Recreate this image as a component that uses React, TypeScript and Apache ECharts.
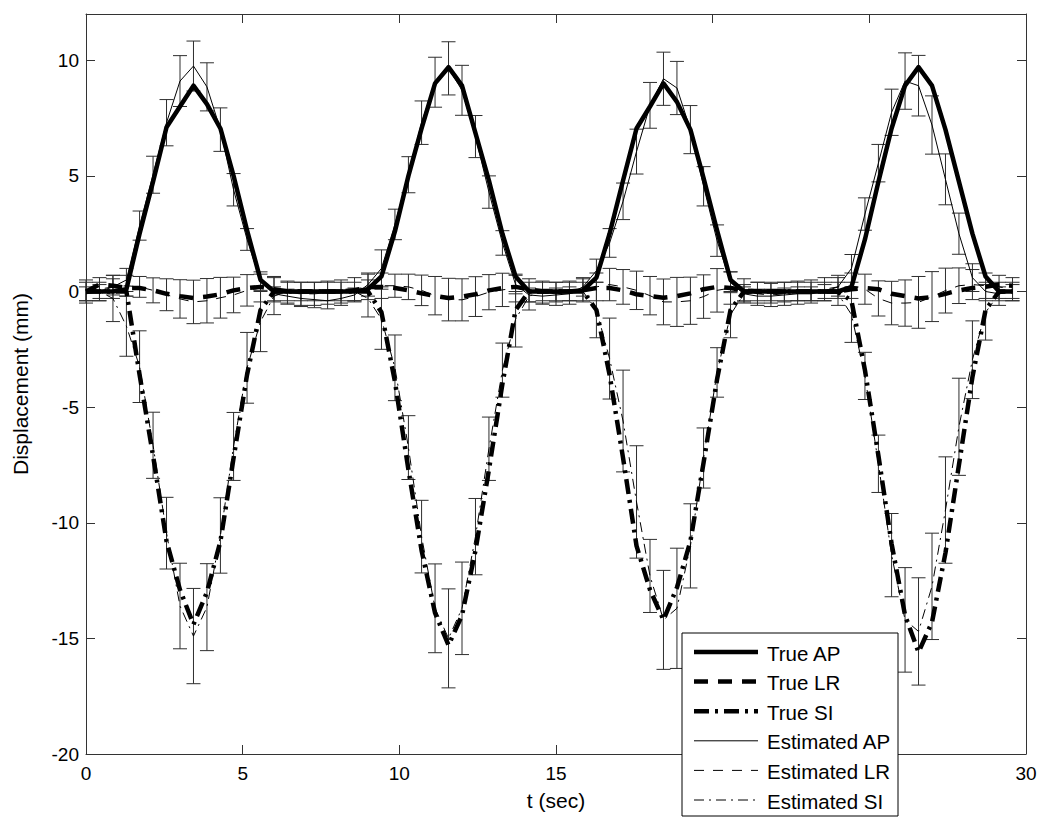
import React, { useEffect, useRef } from 'react';
import * as echarts from 'echarts';

// sample times (s), one sample every 3/7 s
const TIME = [0, 0.43, 0.86, 1.29, 1.71, 2.14, 2.57, 3.0, 3.43, 3.86, 4.29, 4.71, 5.14, 5.57, 6.0, 6.43, 6.86, 7.29, 7.71, 8.14,
  8.57, 9.0, 9.43, 9.86, 10.29, 10.71, 11.14, 11.57, 12.0, 12.43, 12.86, 13.29, 13.71, 14.14, 14.57, 15.0, 15.43, 15.86, 16.29, 16.71,
  17.14, 17.57, 18.0, 18.43, 18.86, 19.29, 19.71, 20.14, 20.57, 21.0, 21.43, 21.86, 22.29, 22.71, 23.14, 23.57, 24.0, 24.43, 24.86, 25.29,
  25.71, 26.14, 26.57, 27.0, 27.43, 27.86, 28.29, 28.71, 29.14, 29.57];

const TRUE_AP = [0, 0, 0, 0.1, 2.5, 4.75, 7.1, 8.0, 8.9, 8.1, 7.05, 5.0, 2.65, 0.5, 0, 0, 0, 0, 0, 0,
  0, 0.1, 0.65, 2.6, 5.0, 7.05, 9.0, 9.7, 8.9, 6.85, 4.8, 2.5, 0.65, 0, 0, 0, 0, 0.05, 0.6, 2.5,
  4.8, 7.05, 8.0, 9.0, 8.2, 7.0, 4.9, 2.65, 0.5, 0, 0, 0, 0, 0, 0, 0, 0, 0.2, 2.25, 4.75,
  7.05, 8.9, 9.7, 8.9, 7.0, 4.75, 2.5, 0.65, 0, 0];

const TRUE_LR = [0, 0.3, 0.25, 0.15, 0.15, 0.05, -0.1, -0.2, -0.28, -0.22, -0.12, 0.05, 0.15, 0.2, 0.1, 0, 0, 0, 0, 0,
  0.05, 0.2, 0.2, 0.15, 0.05, -0.08, -0.2, -0.28, -0.22, -0.12, 0.05, 0.15, 0.2, 0.1, 0, 0, 0, 0.05, 0.15, 0.15,
  0.05, -0.12, -0.2, -0.27, -0.2, -0.08, 0.1, 0.2, 0.15, 0.05, 0, 0, 0, 0, 0, 0, 0, 0.1, 0.15, 0.1,
  -0.1, -0.2, -0.3, -0.25, -0.1, 0.05, 0.15, 0.2, 0.3, 0.25];

const TRUE_SI = [0, 0, 0, 0, -3.6, -7.1, -10.8, -12.9, -14.4, -13.0, -10.8, -7.2, -3.6, -0.8, 0, 0, 0, 0, 0, 0,
  0, 0, -0.9, -3.9, -7.7, -11.2, -13.9, -15.3, -14.0, -11.2, -7.7, -4.0, -0.8, 0, 0, 0, 0, 0, -0.8, -3.6,
  -7.2, -11.0, -12.9, -14.2, -12.8, -10.8, -7.4, -3.8, -0.8, 0, 0, 0, 0, 0, 0, 0, 0, -0.4, -3.4, -7.1,
  -10.9, -14.0, -15.6, -14.3, -11.3, -7.5, -3.7, -0.8, 0, 0];

const EST_AP = [-0.1, 0, 0.2, 0.5, 2.85, 5.05, 7.3, 9.1, 9.75, 8.85, 7.0, 4.4, 2.25, 0.45, -0.1, -0.2, -0.3, -0.35, -0.4, -0.3,
  -0.15, 0.3, 1.0, 2.9, 5.05, 7.3, 9.05, 9.65, 8.7, 6.7, 4.3, 2.1, 0.3, -0.15, -0.2, -0.15, -0.1, 0.2, 0.9, 2.1,
  3.9, 6.05, 8.05, 9.2, 8.8, 7.0, 4.55, 2.2, 0.4, -0.1, -0.2, -0.2, -0.15, -0.1, -0.1, 0, 0.2, 1.0, 3.35, 5.55,
  7.75, 9.1, 8.9, 7.2, 4.85, 2.5, 0.6, 0, -0.1, 0];

const EST_AP_SD = [0.3, 0.3, 0.35, 0.5, 0.63, 0.8, 1.0, 1.1, 1.08, 1.04, 0.94, 0.7, 0.47, 0.4, 0.3, 0.3, 0.35, 0.35, 0.35, 0.3,
  0.3, 0.5, 0.8, 0.66, 0.78, 0.94, 1.08, 1.15, 1.08, 0.91, 0.7, 0.53, 0.4, 0.3, 0.3, 0.3, 0.3, 0.4, 0.5, 0.62,
  0.79, 0.97, 0.99, 1.15, 1.15, 1.04, 0.85, 0.68, 0.45, 0.3, 0.3, 0.3, 0.3, 0.3, 0.3, 0.3, 0.4, 0.6, 0.7, 0.81,
  1.0, 1.22, 1.31, 1.26, 1.1, 0.89, 0.6, 0.4, 0.3, 0.3];

const EST_LR = [0, 0.1, 0.2, 0.25, 0.2, 0.05, -0.14, -0.32, -0.45, -0.4, -0.27, -0.15, 0.05, 0.15, 0.1, -0.05, -0.1, -0.1, -0.05, 0,
  0.1, 0.2, 0.25, 0.25, 0.2, 0.05, -0.18, -0.35, -0.36, -0.22, -0.03, 0.07, 0.15, 0.05, -0.05, -0.1, -0.05, 0.05, 0.2, 0.3,
  0.2, 0.05, -0.18, -0.45, -0.45, -0.4, -0.22, 0.05, 0.15, 0.05, -0.1, -0.15, -0.1, -0.05, 0, 0.1, 0.2, 0.25, 0.1, -0.3,
  -0.5, -0.5, -0.47, -0.22, 0.04, 0.25, 0.3, 0.25, 0.2, 0.1];

const EST_LR_SD = [0.5, 0.5, 0.5, 0.45, 0.45, 0.54, 0.69, 0.83, 0.94, 0.96, 0.88, 0.77, 0.68, 0.6, 0.55, 0.5, 0.5, 0.5, 0.5, 0.5,
  0.5, 0.55, 0.55, 0.5, 0.55, 0.66, 0.83, 0.92, 0.91, 0.86, 0.76, 0.72, 0.6, 0.5, 0.5, 0.5, 0.5, 0.5, 0.6, 0.7,
  0.75, 0.83, 0.83, 0.99, 1.06, 1.02, 0.94, 0.94, 0.7, 0.5, 0.5, 0.5, 0.5, 0.5, 0.5, 0.5, 0.5, 0.55, 0.65, 0.76,
  0.94, 1.0, 1.12, 1.08, 0.97, 0.77, 0.65, 0.55, 0.5, 0.5];

const EST_SI = [0, 0, -0.3, -1.5, -3.25, -6.65, -10.45, -13.6, -14.9, -13.65, -10.55, -6.7, -3.3, -1.3, -0.2, 0, 0, 0, 0, 0,
  0, -0.3, -1.2, -3.3, -6.75, -10.6, -13.7, -15.0, -13.7, -10.6, -6.8, -3.4, -1.2, -0.2, 0, 0, 0, 0, -0.8, -2.9,
  -5.6, -9.1, -12.3, -14.2, -13.7, -11.0, -7.2, -3.5, -1.0, -0.1, 0, 0, 0, 0, 0, 0, -0.1, -1.0, -3.65, -7.45,
  -11.4, -14.2, -14.7, -12.75, -9.45, -5.85, -2.95, -0.9, -0.1, 0];

const EST_SI_SD = [0.4, 0.4, 1.0, 1.3, 1.55, 1.43, 1.55, 1.85, 2.06, 1.88, 1.63, 1.47, 1.53, 1.3, 0.8, 0.4, 0.4, 0.4, 0.4, 0.4,
  0.4, 0.8, 1.3, 1.42, 1.38, 1.57, 1.92, 2.14, 2.0, 1.65, 1.37, 1.17, 1.2, 0.6, 0.4, 0.4, 0.4, 0.4, 1.2, 1.75,
  2.2, 2.43, 1.58, 2.14, 2.6, 1.82, 1.3, 1.07, 1.0, 0.4, 0.4, 0.4, 0.4, 0.4, 0.4, 0.4, 0.5, 1.2, 1.02, 1.24,
  1.8, 2.26, 2.32, 2.3, 2.3, 2.1, 1.68, 1.2, 0.5, 0.4];

const SERIES_NAMES = ['True AP', 'True LR', 'True SI', 'Estimated AP', 'Estimated LR', 'Estimated SI'];
const X_TICKS = { min: 0, max: 30, step: 5 };
const Y_TICKS = { min: -20, max: 12, step: 5 };
// x tick labels that the legend box hides in the figure
const X_HIDDEN_LABELS = [20, 25];

const FONT = '"Liberation Sans", Arial, Helvetica, sans-serif';
const AXIS_COLOR = '#333';
const THICK = 4.5;
const THIN = 1;
const DASH = {
  solid: undefined as any,
  thickDash: [14, 10],
  thickDashDot: [15, 6, 3, 6],
  thinDash: [10, 9],
  thinDashDot: [10, 5, 2, 5],
};

const STYLES = [
  { width: THICK, dash: DASH.solid },
  { width: THICK, dash: DASH.thickDash },
  { width: THICK, dash: DASH.thickDashDot },
  { width: THIN, dash: DASH.solid },
  { width: THIN, dash: DASH.thinDash },
  { width: THIN, dash: DASH.thinDashDot },
];

function pairs(vals: number[]) {
  return TIME.map((t, i) => [t, vals[i]]);
}

function lineSeries(k: number, vals: number[]) {
  const s = STYLES[k];
  return {
    type: 'line',
    name: SERIES_NAMES[k],
    data: pairs(vals),
    showSymbol: false,
    symbol: 'none',
    silent: true,
    xAxisIndex: 0,
    yAxisIndex: 0,
    lineStyle: { color: '#000', width: s.width, type: s.dash ? s.dash : 'solid', cap: 'butt', join: 'round' },
    z: k < 3 ? 3 : 4,
  };
}

function errorSeries(name: string, center: number[], sd: number[]) {
  return {
    type: 'custom',
    name,
    silent: true,
    xAxisIndex: 0,
    yAxisIndex: 0,
    data: TIME.map((t, i) => [t, center[i] - sd[i], center[i] + sd[i]]),
    encode: { x: 0, y: [1, 2] },
    z: 2,
    renderItem: (params: any, api: any) => {
      const x = api.value(0);
      const lo = api.coord([x, api.value(1)]);
      const hi = api.coord([x, api.value(2)]);
      const hw = 7;
      const style = { stroke: '#2e2e2e', lineWidth: 1, fill: null };
      return {
        type: 'group',
        children: [
          { type: 'line', shape: { x1: lo[0], y1: lo[1], x2: hi[0], y2: hi[1] }, style },
          { type: 'line', shape: { x1: lo[0] - hw, y1: lo[1], x2: lo[0] + hw, y2: lo[1] }, style },
          { type: 'line', shape: { x1: hi[0] - hw, y1: hi[1], x2: hi[0] + hw, y2: hi[1] }, style },
        ],
      };
    },
  };
}

function legendGraphic() {
  const x0 = 682, y0 = 633, w = 216, h = 183;
  const rowY0 = 652, rowGap = 29.6;
  const els: any[] = [
    { type: 'rect', z: 100, shape: { x: x0, y: y0, width: w, height: h }, style: { fill: '#fff', stroke: '#000', lineWidth: 1 } },
  ];
  SERIES_NAMES.forEach((name, k) => {
    const y = rowY0 + k * rowGap;
    const s = STYLES[k];
    els.push({
      type: 'line',
      z: 101,
      shape: { x1: 694, y1: y, x2: 758, y2: y },
      style: { stroke: '#000', lineWidth: s.width, lineDash: s.dash || null, lineCap: 'butt' },
    });
    els.push({
      type: 'text',
      z: 101,
      x: 767,
      y: y + 1,
      style: { text: name, fill: '#000', fontSize: 20.5, fontFamily: FONT, verticalAlign: 'middle', align: 'left' },
    });
  });
  return els;
}

const axisCommon = {
  type: 'value',
  splitLine: { show: false },
  axisLine: { show: true, onZero: false, lineStyle: { color: AXIS_COLOR, width: 1 } },
  axisTick: { show: true, inside: true, length: 9, lineStyle: { color: AXIS_COLOR, width: 1 } },
};

const option: any = {
  animation: false,
  backgroundColor: '#fff',
  textStyle: { fontFamily: FONT },
  grid: { left: 86, top: 14, right: 24, bottom: 74, containLabel: false },
  xAxis: [
    {
      ...axisCommon,
      position: 'bottom',
      min: X_TICKS.min, max: X_TICKS.max, interval: X_TICKS.step,
      axisLabel: {
        show: true, fontSize: 19, color: '#000', margin: 10, fontFamily: FONT,
        formatter: (v: number) => (X_HIDDEN_LABELS.indexOf(v) >= 0 ? '' : String(v)),
      },
      name: 't (sec)',
      nameLocation: 'middle',
      nameGap: 36,
      nameTextStyle: { fontSize: 21, color: '#000', fontFamily: FONT },
    },
    {
      ...axisCommon,
      position: 'top',
      min: X_TICKS.min, max: X_TICKS.max, interval: X_TICKS.step,
      axisLabel: { show: false },
    },
  ],
  yAxis: [
    {
      ...axisCommon,
      position: 'left',
      min: Y_TICKS.min, max: Y_TICKS.max, interval: Y_TICKS.step,
      axisLabel: {
        show: true, fontSize: 19, color: '#000', margin: 7, fontFamily: FONT,
        formatter: (v: number) => (v % Y_TICKS.step === 0 ? String(v) : ''),
      },
      name: 'Displacement (mm)',
      nameLocation: 'middle',
      nameGap: 55,
      nameRotate: 90,
      nameTextStyle: { fontSize: 21, color: '#000', fontFamily: FONT },
    },
    {
      ...axisCommon,
      position: 'right',
      min: Y_TICKS.min, max: Y_TICKS.max, interval: Y_TICKS.step,
      axisLabel: { show: false },
    },
  ],
  series: [
    errorSeries('Estimated AP error', EST_AP, EST_AP_SD),
    errorSeries('Estimated LR error', EST_LR, EST_LR_SD),
    errorSeries('Estimated SI error', EST_SI, EST_SI_SD),
    lineSeries(0, TRUE_AP),
    lineSeries(1, TRUE_LR),
    lineSeries(2, TRUE_SI),
    lineSeries(3, EST_AP),
    lineSeries(4, EST_LR),
    lineSeries(5, EST_SI),
  ],
  graphic: legendGraphic(),
};

export default function App() {
  const ref = useRef<HTMLDivElement>(null);
  useEffect(() => {
    const chart = echarts.init(ref.current as HTMLDivElement, null, { renderer: 'svg' });
    chart.setOption(option);
    return () => chart.dispose();
  }, []);
  return <div ref={ref} style={{ position: 'absolute', left: 0, top: 0, width: 1050, height: 828, background: '#fff' }} />;
}
